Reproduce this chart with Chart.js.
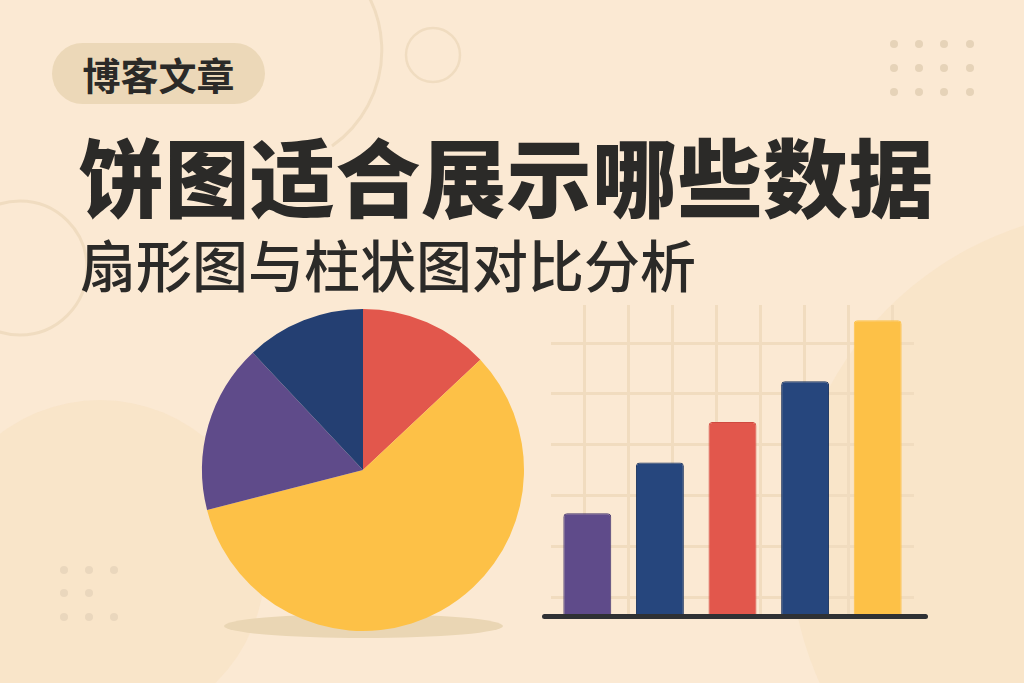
<!DOCTYPE html>
<html lang="zh">
<head>
<meta charset="utf-8">
<title>饼图适合展示哪些数据</title>
<script src="https://cdn.jsdelivr.net/npm/chart.js@4.4.1/dist/chart.umd.min.js"></script>
<style>
  html, body {
    margin: 0;
    padding: 0;
    width: 1024px;
    height: 683px;
    overflow: hidden;
    background: #fbe9d3;
    font-family: "Noto Sans CJK SC", "Noto Sans", sans-serif;
    color: #2b2a28;
  }
  .stage { position: relative; width: 1024px; height: 683px; }
  .deco { position: absolute; left: 0; top: 0; }
  .pill {
    position: absolute;
    left: 52px; top: 43px;
    width: 213px; height: 61px;
    border-radius: 31px;
    background: #ecd8b8;
    font-size: 38px;
    font-weight: 700;
    line-height: 61px;
    text-align: center;
  }
  .title {
    position: absolute;
    left: 79px; top: 131px;
    font-size: 85px;
    font-weight: 900;
    line-height: 85px;
    letter-spacing: 0.5px;
    white-space: nowrap;
  }
  .subtitle {
    position: absolute;
    left: 80px; top: 235px;
    font-size: 56px;
    font-weight: 500;
    line-height: 56px;
    white-space: nowrap;
  }
  .pie-shadow {
    position: absolute;
    left: 224px; top: 614px;
    width: 279px; height: 24px;
    border-radius: 50%;
    background: #ead6b4;
  }
  .pie-box { position: absolute; left: 193px; top: 300px; width: 340px; height: 340px; }
  .bar-box { position: absolute; left: 530px; top: 290px; width: 420px; height: 340px; }
  .baseline {
    position: absolute;
    left: 542px; top: 614px;
    width: 386px; height: 5px;
    border-radius: 3px;
    background: #2f3134;
  }
</style>
</head>
<body>
<div class="stage">
  <svg class="deco" width="1024" height="683">
    <circle cx="100" cy="565" r="165" fill="#f8e2c5" opacity="0.7"></circle>
    <circle cx="1125" cy="545" r="335" fill="#f8e2c5" opacity="0.7"></circle>
    <path d="M 323.5 -51 A 117 117 0 0 1 332 146" fill="none" stroke="#f0dcc0" stroke-width="3"></path>
    <circle cx="433" cy="55" r="27" fill="none" stroke="#f0dcc0" stroke-width="2.5"></circle>
    <circle cx="20" cy="268" r="67" fill="none" stroke="#f0dcc0" stroke-width="3"></circle>
    <g fill="#e6d3b8">
      <circle cx="894" cy="44" r="4"></circle><circle cx="919" cy="44" r="4"></circle>
      <circle cx="944" cy="44" r="4"></circle><circle cx="970" cy="44" r="4"></circle>
      <circle cx="894" cy="68" r="4"></circle><circle cx="919" cy="68" r="4"></circle>
      <circle cx="944" cy="68" r="4"></circle><circle cx="970" cy="68" r="4"></circle>
      <circle cx="894" cy="92" r="4"></circle><circle cx="919" cy="92" r="4"></circle>
      <circle cx="944" cy="92" r="4"></circle><circle cx="970" cy="92" r="4"></circle>
    </g>
    <g fill="#ead7bd">
      <circle cx="64" cy="570" r="4"></circle><circle cx="89" cy="570" r="4"></circle>
      <circle cx="114" cy="570" r="4"></circle>
      <circle cx="64" cy="593" r="4"></circle><circle cx="89" cy="593" r="4"></circle>
      <circle cx="64" cy="617" r="4"></circle><circle cx="89" cy="617" r="4"></circle>
      <circle cx="114" cy="617" r="4"></circle>
    </g>
  </svg>

  <div class="pill">博客文章</div>
  <div class="title">饼图适合展示哪些数据</div>
  <div class="subtitle">扇形图与柱状图对比分析</div>

  <div class="pie-shadow"></div>
  <div class="pie-box"><canvas id="pieChart"></canvas></div>
  <div class="bar-box"><canvas id="barChart"></canvas></div>
  <div class="baseline"></div>
</div>

<script>
// --- data ---
const pieCategories = ["类别A", "类别B", "类别C", "类别D"];
const pieValues = [13, 58, 17, 12];

const barCategories = ["第一组", "第二组", "第三组", "第四组", "第五组"];
const barValues = [20, 30, 38, 46, 58];

// background grid behind the bars (its own helper axes, ticks hidden)
const gridXTicks = [0, 1, 2, 3, 4, 5, 6];
const gridYTicks = [0, 10, 20, 30, 40, 50];

// palette
const red = "#e2574c";
const yellow = "#fdc147";
const purple = "#5f4b8a";
const navy = "#26467d";

Chart.defaults.font.family = "'Noto Sans CJK SC', sans-serif";

// Pie (starts at 12 o'clock, clockwise)
new Chart(document.getElementById("pieChart"), {
  type: "pie",
  data: {
    labels: pieCategories,
    datasets: [
      {
        data: pieValues,
        backgroundColor: [red, yellow, purple, "#243f72"],
        borderWidth: 0,
      },
    ],
  },
  options: {
    responsive: true,
    maintainAspectRatio: false,
    animation: false,
    events: [],
    layout: { padding: 9 },
    plugins: { legend: { display: false }, tooltip: { enabled: false } },
  },
});

// helper axis that only draws grid lines at fixed ticks
function gridAxis(position, min, max, ticks) {
  return {
    type: "linear",
    position: position,
    bounds: "data",
    min: min,
    max: max,
    border: { display: false },
    grid: { color: "#f1dcbf", lineWidth: 3, drawTicks: false },
    ticks: { display: false },
    afterDataLimits: (axis) => {
      axis.min = min;
      axis.max = max;
    },
    afterBuildTicks: (axis) => {
      axis.ticks = ticks.map((v) => ({ value: v }));
    },
  };
}

new Chart(document.getElementById("barChart"), {
  type: "bar",
  data: {
    labels: barCategories,
    datasets: [
      {
        data: barValues,
        backgroundColor: [purple, navy, red, navy, yellow],
        borderColor: ["#46366b", "#1b335f", "#cf4a40", "#1b335f", yellow],
        borderWidth: 1,
        borderRadius: { topLeft: 4, topRight: 4 },
        borderSkipped: "start",
        barPercentage: 0.66,
        categoryPercentage: 1,
      },
    ],
  },
  options: {
    responsive: true,
    maintainAspectRatio: false,
    animation: false,
    events: [],
    layout: { padding: { left: 21, right: 36, top: 15, bottom: 15 } },
    plugins: { legend: { display: false }, tooltip: { enabled: false } },
    scales: {
      x: { display: false },
      y: { display: false, min: 0, max: 61 },
      gx: gridAxis("bottom", -0.67, 6.41, gridXTicks),
      gy: gridAxis("left", -3.5, 57.5, gridYTicks),
    },
  },
});
</script>
</body>
</html>
